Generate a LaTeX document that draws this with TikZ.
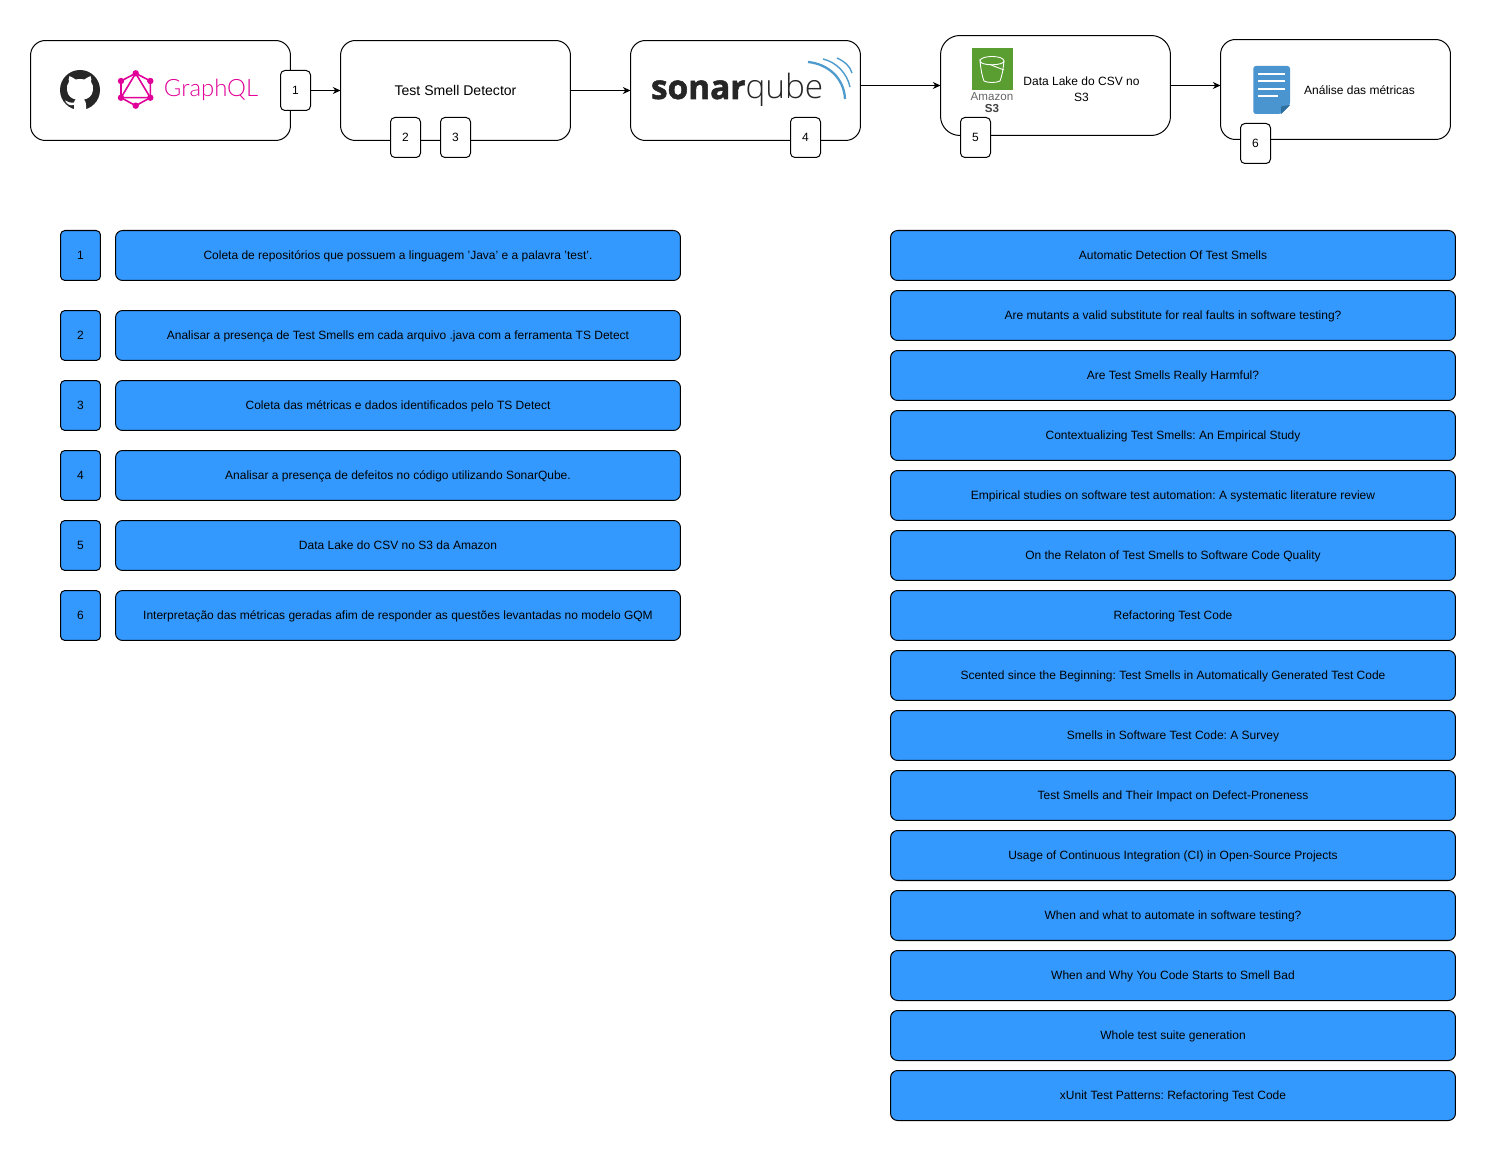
\documentclass[tikz,border=0pt]{standalone}
\usepackage{fontspec}
\setmainfont{Liberation Sans}
\newfontfamily\sonarfont[BoldFeatures={FakeBold=1.6}]{Open Sans}
\newfontfamily\sonarthin{Open Sans Light}
\newfontfamily\graphfont{Lato Light}
\frenchspacing
\usetikzlibrary{arrows.meta}
\definecolor{stepblue}{HTML}{3399FF}
\definecolor{graphpink}{HTML}{E10098}
\definecolor{sonarblue}{HTML}{4E9BCD}
\definecolor{sonardark}{HTML}{262626}
\definecolor{bucketgreen}{HTML}{5A9E32}
\definecolor{docblue}{HTML}{4A94CF}
\definecolor{docfold}{HTML}{2F6F9F}
\tikzset{
	base/.style={draw=black, line width=0.57pt, inner sep=0pt, outer sep=0pt, align=center, font=\fontsize{6.83pt}{9pt}\selectfont},
	stage/.style={base, fill=white, rounded corners=8.5pt, minimum width=4.6cm, minimum height=2cm},
	tag/.style={base, fill=white, rounded corners=2.5pt, minimum width=0.6cm, minimum height=0.8cm, text height=4.9pt, text depth=0pt},
	numbox/.style={base, fill=stepblue, rounded corners=2.5pt, minimum width=0.8cm, minimum height=1cm, text height=4.9pt, text depth=0pt},
	textbox/.style={base, fill=stepblue, rounded corners=4pt, minimum width=11.3cm, minimum height=1cm, text height=4.9pt, text depth=0pt},
	flow/.style={-{Stealth[length=4.4pt,width=4pt]}, line width=0.57pt},
	plain/.style={inner sep=0pt, outer sep=0pt, align=center, font=\fontsize{6.83pt}{9pt}\selectfont}
}
\begin{document}
\begin{tikzpicture}[x=0.02cm, y=-0.02cm]
			\useasboundingbox (-0.5,-0.5) rectangle (1486.5,1150.5);
			\node [stage, minimum width=5.2cm] (gitbox) at (160,90) {};
			\node [stage, font=\fontsize{8pt}{10pt}\selectfont] (detector) at (455,90) {Test Smell Detector};
			\node [stage] (sonarbox) at (745,90) {};
			\node [stage, rounded corners=11pt] (s3box) at (1055,85) {};
			\node [stage] (docbox) at (1335,89) {};
			\node [tag] (t1) at (295,90) {1};
			\node [tag] (t2) at (405,137) {2};
			\node [tag] (t3) at (455,137) {3};
			\node [tag] (t4) at (805,137) {4};
			\node [tag] (t5) at (975,137) {5};
			\node [tag] (t6) at (1255,143) {6};
			\draw [flow] (t1) to (detector);
			\draw [flow] (detector) to (sonarbox);
			\draw [flow] (sonarbox.east |- s3box) to (s3box);
			\draw [flow] (s3box) to (docbox.west |- s3box);
			\begin{scope}[shift={(-0.5,-0.5)}]
			\fill [sonardark] (80,90) circle (20);
			\fill [white] (69.5,76) .. controls (72,77) and (74,78.5) .. (75.5,79.5) .. controls (78,79) and (82,79) .. (84.5,79.5) .. controls (86,78.5) and (88,77) .. (90.5,76) .. controls (91.5,78.5) and (91.5,80.5) .. (91,82) .. controls (93,84.5) and (93.5,87) .. (93,90) .. controls (92.5,96) and (88,99) .. (84,99.5) .. controls (85.5,101) and (86,102.5) .. (86,105) -- (86,110) -- (74,110) -- (74,105) .. controls (70,106) and (67,104.5) .. (65,100.5) .. controls (68,102) and (70,103) .. (74,102.5) .. controls (74,101) and (75,100.5) .. (76,99.5) .. controls (72,99) and (67.5,96) .. (67,90) .. controls (66.5,87) and (67,84.5) .. (69,82) .. controls (68.5,80.5) and (68.5,78.5) .. (69.5,76) -- cycle;
			\draw [graphpink, line width=0.9pt] (135.7,73.3) -- (150.3,81) -- (150.3,97.7) -- (135.7,105.7) -- (121,97.7) -- (121,81) -- cycle;
			\draw [graphpink, line width=0.9pt] (135.7,73.3) -- (150.3,97.7) -- (121,97.7) -- cycle;
			\fill [graphpink] (135.7,73.3) circle (3.2) (150.3,81) circle (3.2) (150.3,97.7) circle (3.2) (135.7,105.7) circle (3.2) (121,97.7) circle (3.2) (121,81) circle (3.2);
			\node [plain, text=graphpink, font=\graphfont\fontsize{13.6pt}{16pt}\selectfont] (graphql) at (211,90) {GraphQL};
			\node [plain, anchor=base west, text=sonardark, font=\sonarfont\bfseries\fontsize{19pt}{20pt}\selectfont] (sonar) at (651,99) {sonar};
			\node [plain, anchor=base west, text=sonardark, font=\sonarthin\fontsize{19pt}{20pt}\selectfont] (qube) at (sonar.base east) {qube};
			\draw [sonarblue, line width=1.3pt] (808,62) .. controls (828,64) and (844,78) .. (845,99);
			\draw [sonarblue, line width=0.8pt] (823,59) .. controls (836,62) and (847,73) .. (850,87);
			\draw [sonarblue, line width=0.8pt] (837,58) .. controls (844,61) and (850,66) .. (852,73);
			\fill [bucketgreen] (972,48) rectangle (1012.7,90);
			\draw [white, line width=0.5pt] (980,61) .. controls (980,55) and (1004,55) .. (1004,61) .. controls (1004,66) and (980,66) .. (980,61) .. controls (981,70) and (982,76) .. (984,81) .. controls (987,83) and (997,83) .. (1000,81) .. controls (1002,76) and (1003,70) .. (1004,61);
			\draw [white, line width=0.5pt] (991,65) -- (1004,70);
			\node [plain, text=black!60, font=\fontsize{6.6pt}{7pt}\selectfont] (amazon) at (992,97) {Amazon};
			\node [plain, text=black!75, font=\bfseries\fontsize{6.6pt}{7pt}\selectfont] (s3) at (992,109) {S3};
			\fill [docblue, rounded corners=1.5pt] (1253.3,66) -- (1290,66) -- (1290,105) -- (1281,114) -- (1253.3,114) -- cycle;
			\fill [docfold] (1290,105) -- (1281,114) -- (1281,106.5) -- cycle;
			\draw [white, line width=1.3pt] (1258,74) -- (1285,74);
			\draw [white, line width=1.3pt] (1258,81) -- (1285,81);
			\draw [white, line width=1.3pt] (1258,88.7) -- (1285,88.7);
			\draw [white, line width=1.3pt] (1258,96) -- (1278,96);
			\end{scope}
			\node [plain] (s3text) at (1081,89) {Data Lake do CSV no\\S3};
			\node [plain] (doctext) at (1359,89.5) {Análise das métricas};
			\node [numbox] (n1) at (80,255) {1};
			\node [numbox] (n2) at (80,335) {2};
			\node [numbox] (n3) at (80,405) {3};
			\node [numbox] (n4) at (80,475) {4};
			\node [numbox] (n5) at (80,545) {5};
			\node [numbox] (n6) at (80,615) {6};
			\node [textbox] (s1) at (397.5,255) {Coleta de repositórios que possuem a linguagem 'Java' e a palavra 'test'.};
			\node [textbox] (s2) at (397.5,335) {Analisar a presença de Test Smells em cada arquivo .java com a ferramenta TS Detect};
			\node [textbox] (s3b) at (397.5,405) {Coleta das métricas e dados identificados pelo TS Detect};
			\node [textbox] (s4) at (397.5,475) {Analisar a presença de defeitos no código utilizando SonarQube.};
			\node [textbox] (s5) at (397.5,545) {Data Lake do CSV no S3 da Amazon};
			\node [textbox] (s6) at (397.5,615) {Interpretação das métricas geradas afim de responder as questões levantadas no modelo GQM};
			\node [textbox] (r1) at (1172.5,255) {Automatic Detection Of Test Smells};
			\node [textbox] (r2) at (1172.5,315) {Are mutants a valid substitute for real faults in software testing?};
			\node [textbox] (r3) at (1172.5,375) {Are Test Smells Really Harmful?};
			\node [textbox] (r4) at (1172.5,435) {Contextualizing Test Smells: An Empirical Study};
			\node [textbox] (r5) at (1172.5,495) {Empirical studies on software test automation: A systematic literature review};
			\node [textbox] (r6) at (1172.5,555) {On the Relaton of Test Smells to Software Code Quality};
			\node [textbox] (r7) at (1172.5,615) {Refactoring Test Code};
			\node [textbox] (r8) at (1172.5,675) {Scented since the Beginning: Test Smells in Automatically Generated Test Code};
			\node [textbox] (r9) at (1172.5,735) {Smells in Software Test Code: A Survey};
			\node [textbox] (r10) at (1172.5,795) {Test Smells and Their Impact on Defect-Proneness};
			\node [textbox] (r11) at (1172.5,855) {Usage of Continuous Integration (CI) in Open-Source Projects};
			\node [textbox] (r12) at (1172.5,915) {When and what to automate in software testing?};
			\node [textbox] (r13) at (1172.5,975) {When and Why You Code Starts to Smell Bad};
			\node [textbox] (r14) at (1172.5,1035) {Whole test suite generation};
			\node [textbox] (r15) at (1172.5,1095) {xUnit Test Patterns: Refactoring Test Code};
\end{tikzpicture}
\end{document}
